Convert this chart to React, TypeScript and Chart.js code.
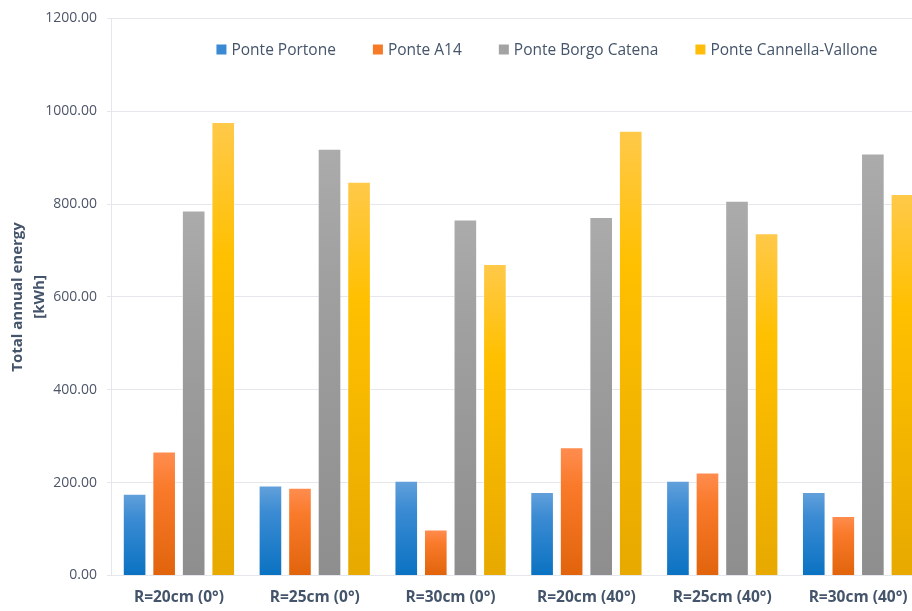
import React, { useEffect, useRef } from "react";
import { Chart, registerables } from "chart.js";

Chart.register(...registerables);

// Layout configurations (radius and tilt)
const categories = [
  "R=20cm (0°)",
  "R=25cm (0°)",
  "R=30cm (0°)",
  "R=20cm (40°)",
  "R=25cm (40°)",
  "R=30cm (40°)",
];

// Total annual energy per bridge [kWh]
const pontePortone = [176, 194, 204, 180, 204, 180];
const ponteA14 = [267, 189, 99, 276, 222, 128];
const ponteBorgoCatena = [786, 919, 767, 772, 807, 909];
const ponteCannellaVallone = [977, 848, 671, 958, 737, 822];

const seriesNames = [
  "Ponte Portone",
  "Ponte A14",
  "Ponte Borgo Catena",
  "Ponte Cannella-Vallone",
];

// light / base / dark shades for each series' vertical gradient
const seriesShades = [
  ["#63A1DB", "#3B8BD3", "#0A72C2"],
  ["#FF8D50", "#F97A2A", "#E1640C"],
  ["#ABABAB", "#A0A0A0", "#8E8E8E"],
  ["#FFC94A", "#FFC000", "#E8A900"],
];
const legendSwatch = ["#3A8AD3", "#F77A26", "#A3A3A3", "#FFBD0A"];

const yTicks = [0, 200, 400, 600, 800, 1000, 1200];

const FONT = '"Open Sans", "DejaVu Sans", sans-serif';
const TEXT = "#44546A";
const GRID = "#E6E7EC";

function gradientFill(shades: string[]) {
  return (c: any) => {
    const chart = c.chart;
    if (!chart.chartArea || c.type !== "data" || !chart.scales.y) return shades[1];
    const y = chart.scales.y;
    const top = y.getPixelForValue(c.raw);
    const bottom = y.getPixelForValue(0);
    if (!isFinite(top) || !isFinite(bottom) || bottom - top < 1) return shades[1];
    const g = chart.ctx.createLinearGradient(0, top, 0, bottom);
    g.addColorStop(0, shades[0]);
    g.addColorStop(0.3, shades[1]);
    g.addColorStop(1, shades[2]);
    return g;
  };
}

// legend drawn inside the plot, horizontally centred on a fixed x
const insideLegend = {
  id: "insideLegend",
  afterDraw(chart: any) {
    const ctx = chart.ctx as CanvasRenderingContext2D;
    const centerX = 547;
    const centerY = 49.5;
    const box = 10;
    const boxGap = 5;
    const itemGap = 37;
    ctx.save();
    ctx.font = `15.5px ${FONT}`;
    ctx.textBaseline = "middle";
    ctx.textAlign = "left";
    const widths = seriesNames.map((n) => ctx.measureText(n).width);
    const total =
      widths.reduce((a, b) => a + b, 0) +
      seriesNames.length * (box + boxGap) +
      (seriesNames.length - 1) * itemGap;
    let x = centerX - total / 2;
    seriesNames.forEach((name, i) => {
      ctx.fillStyle = legendSwatch[i];
      ctx.fillRect(x, centerY - box / 2, box, box);
      x += box + boxGap;
      ctx.fillStyle = TEXT;
      ctx.fillText(name, x, centerY + 1);
      x += widths[i] + itemGap;
    });
    ctx.restore();
  },
};

export default function App() {
  const canvasRef = useRef<HTMLCanvasElement | null>(null);

  useEffect(() => {
    if (!canvasRef.current) return;
    const values = [pontePortone, ponteA14, ponteBorgoCatena, ponteCannellaVallone];
    const chart = new Chart(canvasRef.current, {
      type: "bar",
      data: {
        labels: categories,
        datasets: values.map((data, i) => ({
          label: seriesNames[i],
          data,
          backgroundColor: gradientFill(seriesShades[i]),
          borderColor: "rgba(255,255,255,0.35)",
          borderWidth: 1,
          categoryPercentage: 0.87,
          barPercentage: 0.8,
        })),
      },
      options: {
        animation: false,
        responsive: false,
        maintainAspectRatio: false,
        layout: { padding: { top: 16, left: 0, right: 0, bottom: 0 } },
        plugins: {
          legend: { display: false },
          tooltip: { enabled: false },
        },
        scales: {
          x: {
            grid: { display: false, drawTicks: false },
            border: { display: true, color: GRID, width: 1 },
            ticks: {
              color: TEXT,
              padding: 13,
              font: { family: FONT, size: 15.5, weight: "bold" },
              maxRotation: 0,
              autoSkip: false,
            },
            afterFit: (s: any) => {
              s.height = 35.5;
            },
          },
          y: {
            min: 0,
            max: 1200,
            afterBuildTicks: (s: any) => {
              s.ticks = yTicks.map((v) => ({ value: v }));
            },
            grid: { color: GRID, lineWidth: 1, drawTicks: true, tickLength: 4 },
            border: { display: true, color: GRID, width: 1 },
            ticks: {
              color: "#4D5668",
              padding: 10,
              font: { family: FONT, size: 14 },
              callback: (v: any) => Number(v).toFixed(2),
            },
            title: {
              display: true,
              text: ["Total annual energy", "[kWh]"],
              color: TEXT,
              font: { family: FONT, size: 15, weight: "bold", lineHeight: 1.45 },
              padding: { top: 7, bottom: 0 },
            },
            afterFit: (s: any) => {
              s.width = 111;
            },
          },
        },
      },
      plugins: [insideLegend],
    });
    return () => chart.destroy();
  }, []);

  return (
    <div
      style={{
        position: "fixed",
        left: 0,
        top: 0,
        width: 912,
        height: 611,
        overflow: "hidden",
        background: "#ffffff",
      }}
    >
      <canvas ref={canvasRef} width={926} height={611} style={{ display: "block" }} />
    </div>
  );
}
